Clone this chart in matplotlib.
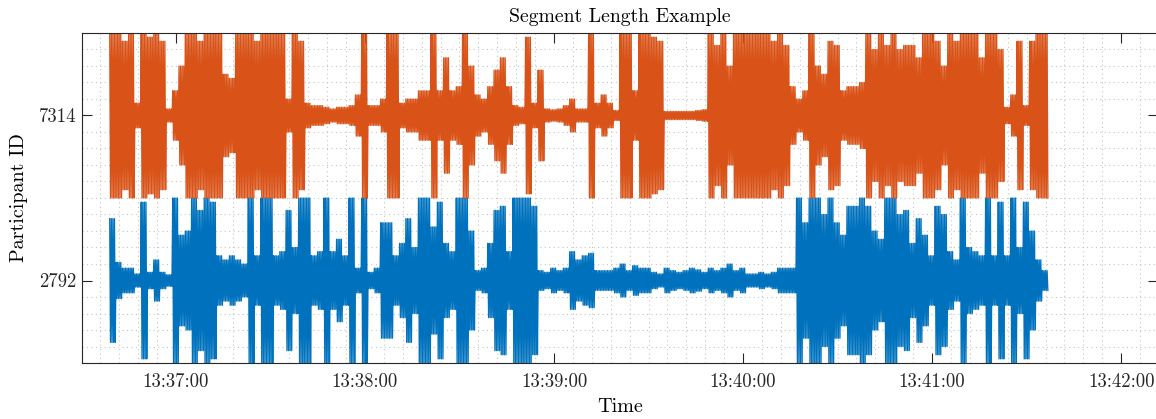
import numpy as np
import matplotlib
matplotlib.use("Agg")
import matplotlib.pyplot as plt
from matplotlib.ticker import FuncFormatter, MultipleLocator, FixedLocator

plt.rcParams['font.family'] = ['cmr10', 'DejaVu Serif']
plt.rcParams['mathtext.fontset'] = 'cm'
plt.rcParams['axes.unicode_minus'] = False
plt.rcParams['axes.formatter.use_mathtext'] = True

# time base: seconds after 13:36:00, signals sampled into 2 s bins
base_hour, base_min = 13, 36
start_sec = 39.0
bin_sec = 2.0

participants = ['2792', '7314']

# normalised amplitude envelope per 2 s bin (1 = clipped)
amp_7314 = [1.0, 1.0, 0.9, 1.0, 0.15, 1.0, 0.95, 1.0, 0.9, 0.08,
            0.3, 0.6, 1.0, 1.0, 0.9, 1.0, 1.0, 1.0, 0.5, 0.45,
            1.0, 1.0, 1.0, 0.9, 1.0, 1.0, 1.0, 1.0, 0.2, 1.0,
            0.9, 0.15, 0.12, 0.12, 0.1, 0.08, 0.1, 0.1, 0.12, 0.25,
            1.0, 0.12, 0.12, 0.2, 1.0, 1.0, 0.15, 0.2, 0.2, 0.3,
            0.3, 1.0, 0.3, 0.7, 0.3, 0.35, 1.0, 0.6, 0.25, 0.2,
            0.35, 0.55, 0.7, 0.35, 0.12, 0.1, 0.95, 0.15, 0.55, 0.08,
            0.07, 0.08, 0.12, 0.2, 0.08, 0.08, 1.0, 0.15, 0.25, 0.15,
            0.06, 1.0, 1.0, 0.3, 1.0, 1.0, 0.95, 0.9, 0.05, 0.05,
            0.05, 0.05, 0.05, 0.06, 0.07, 1.0, 0.85, 1.0, 0.6, 1.0,
            1.0, 1.0, 1.0, 1.0, 1.0, 0.9, 1.0, 0.85, 0.35, 0.2,
            0.3, 1.0, 0.6, 0.5, 0.9, 0.85, 0.3, 0.35, 0.35, 0.4,
            1.0, 0.8, 1.0, 0.85, 1.0, 0.8, 0.85, 0.85, 0.7, 1.0,
            1.0, 0.9, 0.6, 1.0, 0.9, 1.0, 1.0, 1.0, 0.7, 1.0,
            1.0, 0.8, 0.1, 0.25, 0.9, 0.12, 0.9, 1.0, 1.0]

amp_2792 = [0.75, 0.22, 0.15, 0.15, 0.08, 0.95, 0.1, 0.25, 0.1, 0.07,
            1.0, 0.55, 0.6, 1.0, 0.85, 1.0, 0.95, 0.3, 0.25, 0.3,
            0.25, 0.2, 1.0, 0.3, 1.0, 1.0, 0.3, 0.35, 0.85, 0.4,
            1.0, 1.0, 0.3, 0.35, 1.0, 0.35, 0.5, 0.3, 1.0, 0.15,
            1.0, 0.1, 0.15, 0.7, 0.7, 0.3, 0.45, 0.75, 0.4, 1.0,
            1.0, 0.65, 0.95, 0.45, 0.35, 1.0, 1.0, 0.6, 0.12, 0.15,
            0.45, 0.85, 0.9, 0.35, 1.0, 1.0, 1.0, 0.9, 0.12, 0.1,
            0.15, 0.12, 0.15, 0.35, 0.25, 0.3, 0.33, 0.12, 0.12, 0.12,
            0.15, 0.2, 0.12, 0.18, 0.15, 0.15, 0.1, 0.08, 0.15, 0.12,
            0.1, 0.12, 0.15, 0.13, 0.1, 0.15, 0.12, 0.15, 0.2, 0.12,
            0.15, 0.08, 0.08, 0.1, 0.08, 0.1, 0.15, 0.15, 0.15, 1.0,
            0.7, 1.0, 1.0, 0.8, 1.0, 0.7, 0.55, 0.9, 0.9, 1.0,
            0.9, 0.6, 0.5, 1.0, 1.0, 0.8, 0.85, 0.45, 0.75, 0.55,
            0.3, 0.9, 0.8, 0.35, 0.25, 1.0, 0.4, 0.35, 0.3, 1.0,
            0.3, 0.95, 0.3, 1.0, 0.4, 0.95, 0.6, 0.25, 0.12]

signals = [amp_2792, amp_7314]
colors = ['#0072BD', '#D95319']


def envelope_trace(amps, level):
    # draw each bin as a tight up/down swing between +amp and -amp
    xs, ys = [], []
    sub = 8
    for i, a in enumerate(amps):
        t0 = start_sec + i * bin_sec
        for k in range(sub):
            sign = 1 if k % 2 == 0 else -1
            xs.append(t0 + k * bin_sec / sub)
            ys.append(level + sign * 0.5 * a)
    return np.array(xs), np.array(ys)


def fmt_time(x, pos=None):
    total = int(round(x)) + base_min * 60 + base_hour * 3600
    h = total // 3600
    m = (total % 3600) // 60
    s = total % 60
    return f"{h:02d}:{m:02d}:{s:02d}"


fig = plt.figure(figsize=(11.56, 4.19), dpi=100)
ax = fig.add_axes([82 / 1156, 1 - 363 / 419, (1158 - 82) / 1156, 330 / 419])

for k, (amps, col) in enumerate(zip(signals, colors)):
    xs, ys = envelope_trace(amps, k + 1)
    ax.plot(xs, ys, color=col, linewidth=0.95)

ax.set_xlim(30.2, 371.7)
ax.set_ylim(0.5, 2.5)

ax.xaxis.set_major_locator(MultipleLocator(60))
ax.xaxis.set_minor_locator(MultipleLocator(6))
ax.xaxis.set_major_formatter(FuncFormatter(fmt_time))
ax.yaxis.set_major_locator(FixedLocator([1, 2]))
ax.set_yticklabels(participants)
ax.yaxis.set_minor_locator(MultipleLocator(0.1))

ax.grid(True, which='minor', linestyle=(0, (1, 3)), color='#c4c4c4', linewidth=0.8)
ax.tick_params(which='major', direction='in', length=7, width=0.8,
               colors='#262626', labelsize=13.5, top=True, right=True, pad=7)
ax.tick_params(axis='y', which='major', pad=4)
ax.tick_params(which='minor', length=0)
for sp in ax.spines.values():
    sp.set_color('#262626')
    sp.set_linewidth(0.8)

ax.set_title('Segment Length Example', fontsize=14.2, color='#000000', pad=8)
ax.set_xlabel('Time', fontsize=14.5, labelpad=5)
ax.set_ylabel('Participant ID', fontsize=14.5, labelpad=8)

fig.savefig('out.png', dpi=100)
